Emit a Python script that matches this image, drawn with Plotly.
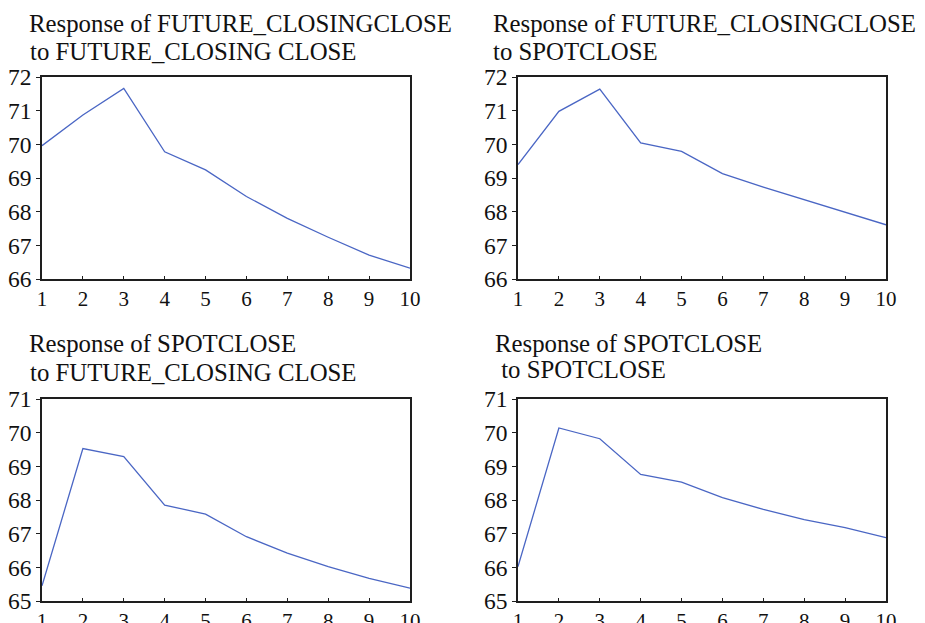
import plotly.graph_objects as go

periods = [1, 2, 3, 4, 5, 6, 7, 8, 9, 10]

fut_to_fut = [69.96, 70.87, 71.66, 69.78, 69.24, 68.45, 67.80, 67.24, 66.71, 66.32]
fut_to_spot = [69.40, 70.98, 71.64, 70.04, 69.79, 69.13, 68.73, 68.36, 67.99, 67.61]
spot_to_fut = [65.45, 69.53, 69.29, 67.85, 67.58, 66.91, 66.42, 66.02, 65.67, 65.38]
spot_to_spot = [66.02, 70.14, 69.82, 68.76, 68.53, 68.07, 67.72, 67.42, 67.18, 66.88]

titles = [
    ("Response of FUTURE_CLOSINGCLOSE", "to FUTURE_CLOSING CLOSE"),
    ("Response of FUTURE_CLOSINGCLOSE", "to SPOTCLOSE"),
    ("Response of SPOTCLOSE", "to FUTURE_CLOSING CLOSE"),
    ("Response of SPOTCLOSE", " to SPOTCLOSE"),
]

y_ranges = [(66, 72), (66, 72), (65, 71), (65, 71)]
y_ticks = [[66, 67, 68, 69, 70, 71, 72], [66, 67, 68, 69, 70, 71, 72],
           [65, 66, 67, 68, 69, 70, 71], [65, 66, 67, 68, 69, 70, 71]]
series = [fut_to_fut, fut_to_spot, spot_to_fut, spot_to_spot]

# the page body has an 8px margin, so the figure is drawn 8px smaller and shifted
OFF = 8
W, H = 925 - OFF, 623 - OFF
# pixel layout of the four panels in the window: (left, right, top, bottom)
panels = [(42, 410, 77, 279), (518, 886, 77, 279), (42, 410, 399, 601), (518, 886, 399, 601)]
title_pos = [((27, 24), (28, 52)), ((491, 23), (491, 51)), ((27, 343), (28, 372)), ((493, 343), (493, 369))]

fig = go.Figure()
font_serif = "Liberation Serif, Times New Roman, serif"
line_col = "#4a66c4"
frame_col = "#1e1e1e"


def px_x(p):
    return (p - OFF) / W


def px_y(p):
    return 1 - (p - OFF) / H


for i in range(4):
    l, r, t, b = panels[i]
    xa = "xaxis" if i == 0 else f"xaxis{i+1}"
    ya = "yaxis" if i == 0 else f"yaxis{i+1}"
    xr = "x" if i == 0 else f"x{i+1}"
    yr = "y" if i == 0 else f"y{i+1}"
    fig.add_trace(go.Scatter(x=periods, y=series[i], mode="lines",
                             line=dict(color=line_col, width=1.3),
                             xaxis=xr, yaxis=yr, showlegend=False))
    fig.layout[xa] = dict(domain=[px_x(l), px_x(r)], range=[1, 10], anchor=yr, automargin=False,
                          tickvals=periods, ticks="inside", ticklen=3, tickcolor=frame_col,
                          showline=True, linecolor=frame_col, linewidth=1.5, mirror=True,
                          showgrid=False, zeroline=False, fixedrange=True,
                          tickfont=dict(family=font_serif, size=21, color="#111"))
    fig.layout[ya] = dict(domain=[px_y(b), px_y(t)], range=list(y_ranges[i]), anchor=xr,
                          automargin=False,
                          tickvals=y_ticks[i], ticks="outside", ticklen=4, tickcolor=frame_col,
                          showline=True, linecolor=frame_col, linewidth=1.5, mirror=True,
                          showgrid=False, zeroline=False, fixedrange=True,
                          tickfont=dict(family=font_serif, size=23.5, color="#111"))
    for (txt, (px, py)) in zip(titles[i], title_pos[i]):
        fig.add_annotation(text=txt, x=px_x(px), y=px_y(py), xref="paper", yref="paper",
                           xanchor="left", yanchor="middle", showarrow=False,
                           font=dict(family=font_serif, size=24.8, color="#111"))

fig.update_layout(width=W, height=H, margin=dict(l=0, r=0, t=0, b=0),
                  paper_bgcolor="white", plot_bgcolor="white")

fig.write_html("out.html")
